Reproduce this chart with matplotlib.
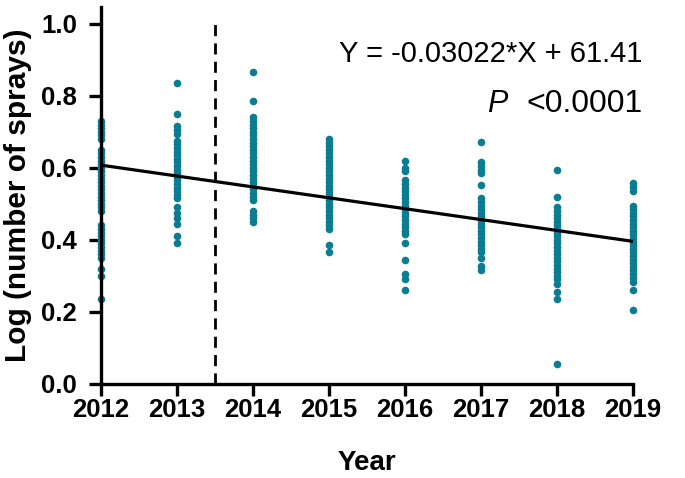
import numpy as np
import matplotlib
matplotlib.use("Agg")
import matplotlib.pyplot as plt

plt.rcParams['font.family'] = ['Liberation Sans', 'DejaVu Sans']

years = [2012, 2013, 2014, 2015, 2016, 2017, 2018, 2019]

# log(number of sprays) per year
y2012 = [0.73, 0.72, 0.71, 0.70, 0.69, 0.68, 0.65, 0.64, 0.63, 0.62, 0.61, 0.60,
         0.59, 0.58, 0.57, 0.56, 0.55, 0.54, 0.53, 0.52, 0.51, 0.50, 0.49, 0.48,
         0.44, 0.43, 0.42, 0.41, 0.40, 0.39, 0.38, 0.37, 0.36, 0.35, 0.32, 0.30, 0.235]
y2013 = [0.835, 0.75, 0.715, 0.705, 0.695, 0.675, 0.665, 0.655, 0.645, 0.635, 0.625,
         0.615, 0.605, 0.595, 0.585, 0.575, 0.565, 0.555, 0.545, 0.535, 0.525, 0.515,
         0.49, 0.475, 0.46, 0.445, 0.41, 0.39]
y2014 = [0.867, 0.785, 0.74, 0.73, 0.72, 0.71, 0.70, 0.69, 0.68, 0.67, 0.66, 0.65,
         0.64, 0.63, 0.62, 0.61, 0.60, 0.59, 0.58, 0.57, 0.56, 0.55, 0.54, 0.53,
         0.52, 0.51, 0.48, 0.47, 0.46, 0.45]
y2015 = [0.68, 0.67, 0.66, 0.65, 0.64, 0.63, 0.62, 0.61, 0.60, 0.59, 0.58, 0.57,
         0.56, 0.55, 0.54, 0.53, 0.52, 0.51, 0.50, 0.49, 0.48, 0.47, 0.46, 0.45,
         0.44, 0.43, 0.385, 0.365]
y2016 = [0.62, 0.60, 0.59, 0.565, 0.555, 0.545, 0.535, 0.525, 0.515, 0.505, 0.495,
         0.485, 0.475, 0.465, 0.455, 0.445, 0.435, 0.425, 0.415, 0.39, 0.345,
         0.305, 0.29, 0.26]
y2017 = [0.671, 0.617, 0.605, 0.595, 0.585, 0.551, 0.517, 0.505, 0.495, 0.485,
         0.475, 0.465, 0.455, 0.445, 0.435, 0.425, 0.415, 0.405, 0.395, 0.385,
         0.375, 0.365, 0.35, 0.328, 0.315]
y2018 = [0.594, 0.519, 0.49, 0.48, 0.47, 0.46, 0.45, 0.44, 0.43, 0.42, 0.41, 0.40,
         0.39, 0.38, 0.37, 0.36, 0.35, 0.34, 0.33, 0.32, 0.31, 0.30, 0.29, 0.278,
         0.256, 0.235, 0.055]
y2019 = [0.558, 0.547, 0.536, 0.495, 0.485, 0.475, 0.465, 0.455, 0.445, 0.435,
         0.425, 0.415, 0.405, 0.395, 0.385, 0.375, 0.365, 0.355, 0.345, 0.335,
         0.325, 0.315, 0.305, 0.295, 0.283, 0.26, 0.206]
year_values = [y2012, y2013, y2014, y2015, y2016, y2017, y2018, y2019]

slope = -0.03022
intercept = 61.41
cutoff_year = 2013.5

dot_color = '#0B7D93'

fig = plt.figure(figsize=(6.85, 4.78), dpi=100)
ax = fig.add_axes([0.1474, 0.1967, 0.7766, 0.7877])

for yr, vals in zip(years, year_values):
    ax.scatter([yr] * len(vals), vals, s=30, color=dot_color, linewidths=0,
               zorder=2, clip_on=False)

fit_x = np.array([years[0], years[-1]])
ax.plot(fit_x, slope * fit_x + intercept, color='black', lw=2.3, zorder=3,
        solid_capstyle='butt')
ax.plot([cutoff_year, cutoff_year], [0, 1.0], color='black', lw=2.0,
        dashes=(4, 2.6), zorder=3)

ax.set_xlim(2012, 2019)
ax.set_ylim(0, 1.045)
ax.set_xticks(years)
ax.set_yticks([0.0, 0.2, 0.4, 0.6, 0.8, 1.0])
ax.set_yticklabels(['0.0', '0.2', '0.4', '0.6', '0.8', '1.0'])

for side in ['top', 'right']:
    ax.spines[side].set_visible(False)
for side in ['left', 'bottom']:
    ax.spines[side].set_linewidth(2.4)
    ax.spines[side].set_zorder(4)
ax.tick_params(direction='out', length=8.6, width=2.4, labelsize=18.5)
ax.tick_params(axis='y', pad=8.5)
ax.tick_params(axis='x', pad=1.5)
for lbl in ax.get_xticklabels() + ax.get_yticklabels():
    lbl.set_fontweight('bold')

ax.set_xlabel('Year', fontsize=20, fontweight='bold', labelpad=20)
ax.set_ylabel('Log (number of sprays)', fontsize=21.5, fontweight='bold', labelpad=7)

ax.text(2019.13, 0.917, 'Y = -0.03022*X + 61.41', fontsize=21, va='center', ha='right')
ax.text(2017.08, 0.776, 'P', fontsize=22, fontstyle='italic', va='center', ha='left')
ax.text(2019.13, 0.776, '<0.0001', fontsize=23, va='center', ha='right')

fig.savefig('out.png', dpi=100)
